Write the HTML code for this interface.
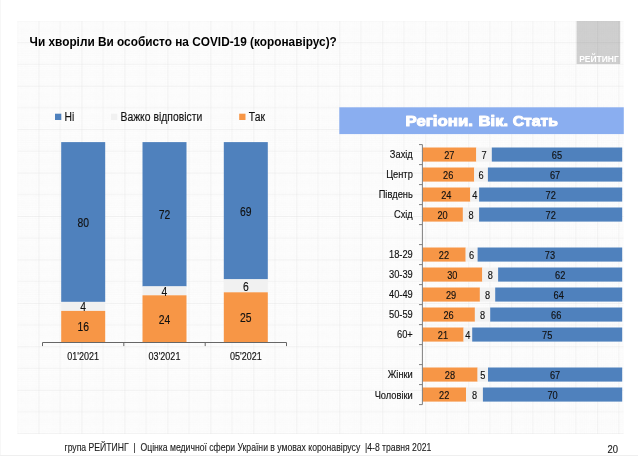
<!DOCTYPE html>
<html lang="uk"><head><meta charset="utf-8"><title>Чи хворіли Ви особисто на COVID-19</title>
<style>html,body{margin:0;padding:0;background:#fff}svg{display:block;font-family:"Liberation Sans",sans-serif}text{white-space:pre}</style>
</head><body>
<svg width="638" height="456" viewBox="0 0 638 456">
<defs>
<pattern id="grid" x="38.47" y="42.25" width="42.98" height="43.44" patternUnits="userSpaceOnUse"><path d="M0 2.42H42.98M2.40 0V43.44M0 4.59H42.98M4.55 0V43.44M0 6.77H42.98M6.70 0V43.44M0 8.94H42.98M8.85 0V43.44M0 11.11H42.98M10.99 0V43.44M0 13.28H42.98M13.14 0V43.44M0 15.45H42.98M15.29 0V43.44M0 17.63H42.98M17.44 0V43.44M0 19.80H42.98M19.59 0V43.44M0 24.14H42.98M23.89 0V43.44M0 26.31H42.98M26.04 0V43.44M0 28.49H42.98M28.19 0V43.44M0 30.66H42.98M30.34 0V43.44M0 32.83H42.98M32.48 0V43.44M0 35.00H42.98M34.63 0V43.44M0 37.17H42.98M36.78 0V43.44M0 39.35H42.98M38.93 0V43.44M0 41.52H42.98M41.08 0V43.44" stroke="#f8f8f8" stroke-width="0.5" fill="none"/><path d="M0 21.97H42.98M21.74 0V43.44" stroke="#e9e9e9" stroke-width="0.55" fill="none"/><path d="M0 0.25H42.98M0.25 0V43.44" stroke="#dedede" stroke-width="0.55" fill="none"/></pattern>
</defs>
<rect x="0.00" y="0.00" width="638.00" height="456.00" fill="#ffffff"/>
<rect x="17.50" y="21.00" width="606.00" height="413.00" fill="#fefefe"/>
<rect x="576.60" y="21.00" width="43.60" height="43.10" fill="#d1d1d1"/>
<rect x="17.50" y="21.00" width="606.00" height="413.00" fill="url(#grid)" style="mix-blend-mode:multiply"/>
<rect x="0.00" y="0.00" width="1.00" height="456.00" fill="#f7f7f7"/>
<rect x="0.00" y="455.00" width="638.00" height="1.00" fill="#efefef"/>
<text transform="translate(579.20,62.00) scale(0.985,1)" font-size="8.6" text-anchor="start" font-weight="bold" fill="#fff">РЕЙТИНГ</text>
<text transform="translate(29.60,46.30) scale(0.89,1)" font-size="13.3" text-anchor="start" font-weight="bold" fill="#000">Чи хворіли Ви особисто на COVID-19 (коронавірус)?</text>
<rect x="55.00" y="113.70" width="6.30" height="6.30" fill="#4f81bd"/>
<text transform="translate(64.60,120.80) scale(0.82,1)" font-size="12.66" text-anchor="start" font-weight="normal" fill="#111111" stroke="#111111" stroke-width="0.15">Ні</text>
<rect x="111.00" y="113.70" width="6.30" height="6.30" fill="#f1f1f1"/>
<text transform="translate(120.50,120.80) scale(0.82,1)" font-size="12.66" text-anchor="start" font-weight="normal" fill="#111111" stroke="#111111" stroke-width="0.15">Важко відповісти</text>
<rect x="239.20" y="113.70" width="6.30" height="6.30" fill="#f79646"/>
<text transform="translate(248.80,120.80) scale(0.82,1)" font-size="12.66" text-anchor="start" font-weight="normal" fill="#111111" stroke="#111111" stroke-width="0.15">Так</text>
<rect x="61.20" y="142.10" width="44.00" height="159.80" fill="#4f81bd"/>
<rect x="61.20" y="301.90" width="44.00" height="9.00" fill="#f1f1f1"/>
<rect x="61.20" y="310.90" width="44.00" height="31.60" fill="#f79646"/>
<text transform="translate(83.20,331.40) scale(0.82,1)" font-size="12.66" text-anchor="middle" font-weight="normal" fill="#111111" stroke="#111111" stroke-width="0.15">16</text>
<text transform="translate(83.20,311.40) scale(0.82,1)" font-size="12.66" text-anchor="middle" font-weight="normal" fill="#111111" stroke="#111111" stroke-width="0.15">4</text>
<text transform="translate(83.20,227.00) scale(0.82,1)" font-size="12.66" text-anchor="middle" font-weight="normal" fill="#111111" stroke="#111111" stroke-width="0.15">80</text>
<text transform="translate(83.20,359.80) scale(0.82,1)" font-size="11" text-anchor="middle" font-weight="normal" fill="#111111" stroke="#111111" stroke-width="0.15">01'2021</text>
<rect x="142.50" y="142.10" width="44.00" height="144.30" fill="#4f81bd"/>
<rect x="142.50" y="286.40" width="44.00" height="8.90" fill="#f1f1f1"/>
<rect x="142.50" y="295.30" width="44.00" height="47.20" fill="#f79646"/>
<text transform="translate(164.50,323.60) scale(0.82,1)" font-size="12.66" text-anchor="middle" font-weight="normal" fill="#111111" stroke="#111111" stroke-width="0.15">24</text>
<text transform="translate(164.50,295.85) scale(0.82,1)" font-size="12.66" text-anchor="middle" font-weight="normal" fill="#111111" stroke="#111111" stroke-width="0.15">4</text>
<text transform="translate(164.50,219.25) scale(0.82,1)" font-size="12.66" text-anchor="middle" font-weight="normal" fill="#111111" stroke="#111111" stroke-width="0.15">72</text>
<text transform="translate(164.50,359.80) scale(0.82,1)" font-size="11" text-anchor="middle" font-weight="normal" fill="#111111" stroke="#111111" stroke-width="0.15">03'2021</text>
<rect x="223.80" y="142.10" width="44.00" height="137.20" fill="#4f81bd"/>
<rect x="223.80" y="279.30" width="44.00" height="13.00" fill="#f1f1f1"/>
<rect x="223.80" y="292.30" width="44.00" height="50.20" fill="#f79646"/>
<text transform="translate(245.80,322.10) scale(0.82,1)" font-size="12.66" text-anchor="middle" font-weight="normal" fill="#111111" stroke="#111111" stroke-width="0.15">25</text>
<text transform="translate(245.80,290.80) scale(0.82,1)" font-size="12.66" text-anchor="middle" font-weight="normal" fill="#111111" stroke="#111111" stroke-width="0.15">6</text>
<text transform="translate(245.80,215.70) scale(0.82,1)" font-size="12.66" text-anchor="middle" font-weight="normal" fill="#111111" stroke="#111111" stroke-width="0.15">69</text>
<text transform="translate(245.80,359.80) scale(0.82,1)" font-size="11" text-anchor="middle" font-weight="normal" fill="#111111" stroke="#111111" stroke-width="0.15">05'2021</text>
<path d="M42.5 342.5H286.5M42.5 342.5v3.6M123.8 342.5v3.6M205.2 342.5v3.6M286.5 342.5v3.6" stroke="#666" stroke-width="1" fill="none"/>
<rect x="339.30" y="107.30" width="284.50" height="26.80" fill="#8aaef0"/>
<text x="405.6" y="126" font-size="15" font-weight="bold" fill="#fff" stroke="#fff" stroke-width="1.1" stroke-linejoin="round" style="filter:drop-shadow(0.6px 0.7px 0.2px rgba(95,125,205,0.6))" textLength="67.3" lengthAdjust="spacingAndGlyphs">Регіони.</text>
<text x="478.6" y="126" font-size="15" font-weight="bold" fill="#fff" stroke="#fff" stroke-width="1.1" stroke-linejoin="round" style="filter:drop-shadow(0.6px 0.7px 0.2px rgba(95,125,205,0.6))" textLength="29.5" lengthAdjust="spacingAndGlyphs">Вік.</text>
<text x="512.7" y="126" font-size="15" font-weight="bold" fill="#fff" stroke="#fff" stroke-width="1.1" stroke-linejoin="round" style="filter:drop-shadow(0.6px 0.7px 0.2px rgba(95,125,205,0.6))" textLength="45.2" lengthAdjust="spacingAndGlyphs">Стать</text>
<rect x="422.30" y="147.50" width="54.00" height="14.10" fill="#f79646"/>
<rect x="476.30" y="147.50" width="15.50" height="14.10" fill="#f1f1f1"/>
<rect x="491.80" y="147.50" width="130.40" height="14.10" fill="#4f81bd"/>
<text transform="translate(412.80,157.70) scale(0.87,1)" font-size="10.7" text-anchor="end" font-weight="normal" fill="#111111" stroke="#111111" stroke-width="0.15">Захід</text>
<text transform="translate(449.30,158.50) scale(0.84,1)" font-size="11" text-anchor="middle" font-weight="normal" fill="#111111" stroke="#111111" stroke-width="0.15">27</text>
<text transform="translate(484.05,158.50) scale(0.84,1)" font-size="11" text-anchor="middle" font-weight="normal" fill="#111111" stroke="#111111" stroke-width="0.15">7</text>
<text transform="translate(557.00,158.50) scale(0.84,1)" font-size="11" text-anchor="middle" font-weight="normal" fill="#111111" stroke="#111111" stroke-width="0.15">65</text>
<rect x="422.30" y="167.50" width="51.90" height="14.10" fill="#f79646"/>
<rect x="474.20" y="167.50" width="13.70" height="14.10" fill="#f1f1f1"/>
<rect x="487.90" y="167.50" width="134.30" height="14.10" fill="#4f81bd"/>
<text transform="translate(412.80,177.77) scale(0.87,1)" font-size="10.7" text-anchor="end" font-weight="normal" fill="#111111" stroke="#111111" stroke-width="0.15">Центр</text>
<text transform="translate(448.25,178.50) scale(0.84,1)" font-size="11" text-anchor="middle" font-weight="normal" fill="#111111" stroke="#111111" stroke-width="0.15">26</text>
<text transform="translate(481.05,178.50) scale(0.84,1)" font-size="11" text-anchor="middle" font-weight="normal" fill="#111111" stroke="#111111" stroke-width="0.15">6</text>
<text transform="translate(555.05,178.50) scale(0.84,1)" font-size="11" text-anchor="middle" font-weight="normal" fill="#111111" stroke="#111111" stroke-width="0.15">67</text>
<rect x="422.30" y="187.50" width="48.00" height="14.10" fill="#f79646"/>
<rect x="470.30" y="187.50" width="8.80" height="14.10" fill="#f1f1f1"/>
<rect x="479.10" y="187.50" width="143.10" height="14.10" fill="#4f81bd"/>
<text transform="translate(412.80,197.84) scale(0.87,1)" font-size="10.7" text-anchor="end" font-weight="normal" fill="#111111" stroke="#111111" stroke-width="0.15">Південь</text>
<text transform="translate(446.30,198.50) scale(0.84,1)" font-size="11" text-anchor="middle" font-weight="normal" fill="#111111" stroke="#111111" stroke-width="0.15">24</text>
<text transform="translate(474.70,198.50) scale(0.84,1)" font-size="11" text-anchor="middle" font-weight="normal" fill="#111111" stroke="#111111" stroke-width="0.15">4</text>
<text transform="translate(550.65,198.50) scale(0.84,1)" font-size="11" text-anchor="middle" font-weight="normal" fill="#111111" stroke="#111111" stroke-width="0.15">72</text>
<rect x="422.30" y="207.50" width="40.60" height="14.10" fill="#f79646"/>
<rect x="462.90" y="207.50" width="16.20" height="14.10" fill="#f1f1f1"/>
<rect x="479.10" y="207.50" width="143.10" height="14.10" fill="#4f81bd"/>
<text transform="translate(412.80,217.91) scale(0.87,1)" font-size="10.7" text-anchor="end" font-weight="normal" fill="#111111" stroke="#111111" stroke-width="0.15">Схід</text>
<text transform="translate(442.60,218.50) scale(0.84,1)" font-size="11" text-anchor="middle" font-weight="normal" fill="#111111" stroke="#111111" stroke-width="0.15">20</text>
<text transform="translate(471.00,218.50) scale(0.84,1)" font-size="11" text-anchor="middle" font-weight="normal" fill="#111111" stroke="#111111" stroke-width="0.15">8</text>
<text transform="translate(550.65,218.50) scale(0.84,1)" font-size="11" text-anchor="middle" font-weight="normal" fill="#111111" stroke="#111111" stroke-width="0.15">72</text>
<rect x="422.30" y="247.50" width="43.40" height="14.10" fill="#f79646"/>
<rect x="465.70" y="247.50" width="11.90" height="14.10" fill="#f1f1f1"/>
<rect x="477.60" y="247.50" width="144.60" height="14.10" fill="#4f81bd"/>
<text transform="translate(412.80,258.05) scale(0.87,1)" font-size="10.7" text-anchor="end" font-weight="normal" fill="#111111" stroke="#111111" stroke-width="0.15">18-29</text>
<text transform="translate(444.00,258.50) scale(0.84,1)" font-size="11" text-anchor="middle" font-weight="normal" fill="#111111" stroke="#111111" stroke-width="0.15">22</text>
<text transform="translate(471.65,258.50) scale(0.84,1)" font-size="11" text-anchor="middle" font-weight="normal" fill="#111111" stroke="#111111" stroke-width="0.15">6</text>
<text transform="translate(549.90,258.50) scale(0.84,1)" font-size="11" text-anchor="middle" font-weight="normal" fill="#111111" stroke="#111111" stroke-width="0.15">73</text>
<rect x="422.30" y="267.50" width="60.00" height="14.10" fill="#f79646"/>
<rect x="482.30" y="267.50" width="15.80" height="14.10" fill="#f1f1f1"/>
<rect x="498.10" y="267.50" width="124.10" height="14.10" fill="#4f81bd"/>
<text transform="translate(412.80,278.12) scale(0.87,1)" font-size="10.7" text-anchor="end" font-weight="normal" fill="#111111" stroke="#111111" stroke-width="0.15">30-39</text>
<text transform="translate(452.30,278.50) scale(0.84,1)" font-size="11" text-anchor="middle" font-weight="normal" fill="#111111" stroke="#111111" stroke-width="0.15">30</text>
<text transform="translate(490.20,278.50) scale(0.84,1)" font-size="11" text-anchor="middle" font-weight="normal" fill="#111111" stroke="#111111" stroke-width="0.15">8</text>
<text transform="translate(560.15,278.50) scale(0.84,1)" font-size="11" text-anchor="middle" font-weight="normal" fill="#111111" stroke="#111111" stroke-width="0.15">62</text>
<rect x="422.30" y="287.50" width="57.60" height="14.10" fill="#f79646"/>
<rect x="479.90" y="287.50" width="15.30" height="14.10" fill="#f1f1f1"/>
<rect x="495.20" y="287.50" width="127.00" height="14.10" fill="#4f81bd"/>
<text transform="translate(412.80,298.19) scale(0.87,1)" font-size="10.7" text-anchor="end" font-weight="normal" fill="#111111" stroke="#111111" stroke-width="0.15">40-49</text>
<text transform="translate(451.10,298.50) scale(0.84,1)" font-size="11" text-anchor="middle" font-weight="normal" fill="#111111" stroke="#111111" stroke-width="0.15">29</text>
<text transform="translate(487.55,298.50) scale(0.84,1)" font-size="11" text-anchor="middle" font-weight="normal" fill="#111111" stroke="#111111" stroke-width="0.15">8</text>
<text transform="translate(558.70,298.50) scale(0.84,1)" font-size="11" text-anchor="middle" font-weight="normal" fill="#111111" stroke="#111111" stroke-width="0.15">64</text>
<rect x="422.30" y="307.50" width="52.60" height="14.10" fill="#f79646"/>
<rect x="474.90" y="307.50" width="15.30" height="14.10" fill="#f1f1f1"/>
<rect x="490.20" y="307.50" width="132.00" height="14.10" fill="#4f81bd"/>
<text transform="translate(412.80,318.26) scale(0.87,1)" font-size="10.7" text-anchor="end" font-weight="normal" fill="#111111" stroke="#111111" stroke-width="0.15">50-59</text>
<text transform="translate(448.60,318.50) scale(0.84,1)" font-size="11" text-anchor="middle" font-weight="normal" fill="#111111" stroke="#111111" stroke-width="0.15">26</text>
<text transform="translate(482.55,318.50) scale(0.84,1)" font-size="11" text-anchor="middle" font-weight="normal" fill="#111111" stroke="#111111" stroke-width="0.15">8</text>
<text transform="translate(556.20,318.50) scale(0.84,1)" font-size="11" text-anchor="middle" font-weight="normal" fill="#111111" stroke="#111111" stroke-width="0.15">66</text>
<rect x="422.30" y="327.50" width="41.30" height="14.10" fill="#f79646"/>
<rect x="463.60" y="327.50" width="8.60" height="14.10" fill="#f1f1f1"/>
<rect x="472.20" y="327.50" width="150.00" height="14.10" fill="#4f81bd"/>
<text transform="translate(412.80,338.33) scale(0.87,1)" font-size="10.7" text-anchor="end" font-weight="normal" fill="#111111" stroke="#111111" stroke-width="0.15">60+</text>
<text transform="translate(442.95,338.50) scale(0.84,1)" font-size="11" text-anchor="middle" font-weight="normal" fill="#111111" stroke="#111111" stroke-width="0.15">21</text>
<text transform="translate(467.90,338.50) scale(0.84,1)" font-size="11" text-anchor="middle" font-weight="normal" fill="#111111" stroke="#111111" stroke-width="0.15">4</text>
<text transform="translate(547.20,338.50) scale(0.84,1)" font-size="11" text-anchor="middle" font-weight="normal" fill="#111111" stroke="#111111" stroke-width="0.15">75</text>
<rect x="422.30" y="367.50" width="55.30" height="14.10" fill="#f79646"/>
<rect x="477.60" y="367.50" width="10.40" height="14.10" fill="#f1f1f1"/>
<rect x="488.00" y="367.50" width="134.20" height="14.10" fill="#4f81bd"/>
<text transform="translate(412.80,378.47) scale(0.87,1)" font-size="10.7" text-anchor="end" font-weight="normal" fill="#111111" stroke="#111111" stroke-width="0.15">Жінки</text>
<text transform="translate(449.95,378.50) scale(0.84,1)" font-size="11" text-anchor="middle" font-weight="normal" fill="#111111" stroke="#111111" stroke-width="0.15">28</text>
<text transform="translate(482.80,378.50) scale(0.84,1)" font-size="11" text-anchor="middle" font-weight="normal" fill="#111111" stroke="#111111" stroke-width="0.15">5</text>
<text transform="translate(555.10,378.50) scale(0.84,1)" font-size="11" text-anchor="middle" font-weight="normal" fill="#111111" stroke="#111111" stroke-width="0.15">67</text>
<rect x="422.30" y="387.50" width="43.80" height="14.10" fill="#f79646"/>
<rect x="466.10" y="387.50" width="16.80" height="14.10" fill="#f1f1f1"/>
<rect x="482.90" y="387.50" width="139.30" height="14.10" fill="#4f81bd"/>
<text transform="translate(412.80,398.54) scale(0.87,1)" font-size="10.7" text-anchor="end" font-weight="normal" fill="#111111" stroke="#111111" stroke-width="0.15">Чоловіки</text>
<text transform="translate(444.20,398.50) scale(0.84,1)" font-size="11" text-anchor="middle" font-weight="normal" fill="#111111" stroke="#111111" stroke-width="0.15">22</text>
<text transform="translate(474.50,398.50) scale(0.84,1)" font-size="11" text-anchor="middle" font-weight="normal" fill="#111111" stroke="#111111" stroke-width="0.15">8</text>
<text transform="translate(552.55,398.50) scale(0.84,1)" font-size="11" text-anchor="middle" font-weight="normal" fill="#111111" stroke="#111111" stroke-width="0.15">70</text>
<path d="M422.40000000000003 144.6V404.6M422.40000000000003 144.6h-3.4M422.40000000000003 164.6h-3.4M422.40000000000003 184.6h-3.4M422.40000000000003 204.6h-3.4M422.40000000000003 224.6h-3.4M422.40000000000003 244.6h-3.4M422.40000000000003 264.6h-3.4M422.40000000000003 284.6h-3.4M422.40000000000003 304.6h-3.4M422.40000000000003 324.6h-3.4M422.40000000000003 344.6h-3.4M422.40000000000003 364.6h-3.4M422.40000000000003 384.6h-3.4M422.40000000000003 404.6h-3.4" stroke="#7f7f7f" stroke-width="1" fill="none"/>
<text transform="translate(64.50,451.00) scale(0.848,1)" font-size="10.2" text-anchor="start" font-weight="normal" fill="#1a1a1a" stroke="#1a1a1a" stroke-width="0.1">група РЕЙТИНГ  |  Оцінка медичної сфери України в умовах коронавірусу  |4-8 травня 2021</text>
<text transform="translate(618.00,452.70) scale(0.86,1)" font-size="11" text-anchor="end" font-weight="normal" fill="#222" stroke="#222" stroke-width="0.15">20</text>
</svg>
</body></html>
